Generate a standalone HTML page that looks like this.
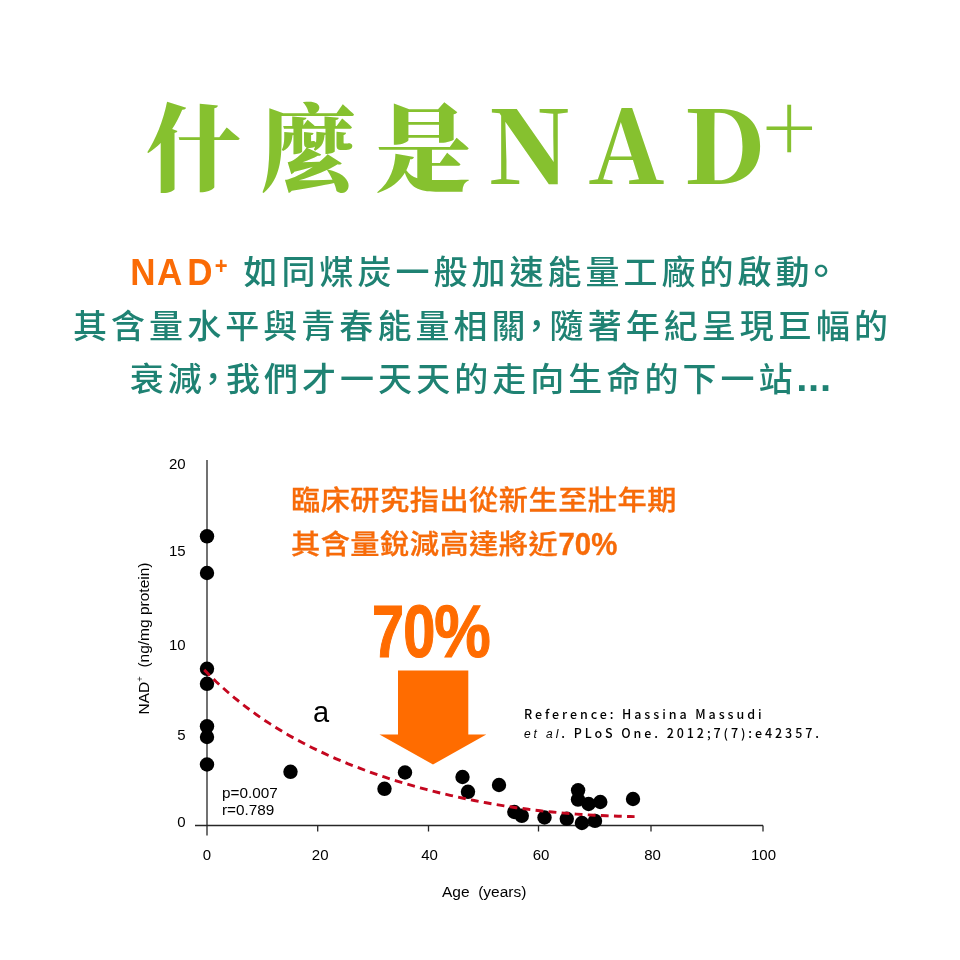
<!DOCTYPE html>
<html lang="zh-Hant">
<head>
<meta charset="utf-8">
<title>什麼是NAD+</title>
<style>
html,body{margin:0;padding:0;background:#fff;}
body{width:960px;height:960px;position:relative;overflow:hidden;font-family:"Liberation Sans","Noto Sans CJK TC","Noto Sans CJK SC",sans-serif;}
.abs{position:absolute;white-space:nowrap;line-height:1;}
#title{left:146px;top:90px;color:#86c12f;font-family:"Noto Serif CJK TC","Noto Serif CJK SC",serif;font-weight:900;font-size:95px;letter-spacing:20px;}
#title .lat{font-size:101px;letter-spacing:17px;}
#title .shi{letter-spacing:16.6px;}
#title .lat .a{letter-spacing:19px;}
#title .lat .d{letter-spacing:0;}
#title .plus{font-weight:200;font-size:92px;letter-spacing:0;position:relative;top:-23px;margin-left:-1.5px;}
.sub{color:#1f8273;transform:scaleY(0.965);transform-origin:50% 50%;font-family:"Noto Sans CJK TC","Noto Sans CJK SC",sans-serif;font-weight:500;font-size:34px;letter-spacing:4.3px;}
.sub .nad{color:#fa6b06;font-family:"Liberation Sans",sans-serif;font-weight:bold;font-size:35px;letter-spacing:1.6px;}
.sub .nad{margin-right:2.5px;display:inline-block;transform:scaleY(1.09);transform-origin:50% 84%;position:relative;top:1px;}
.sub .nad sup{font-size:22px;vertical-align:baseline;position:relative;top:-10px;}
.sub .pn{letter-spacing:0;margin:0 -4px 0 -10px;}
#l1{left:130.2px;top:253.4px;letter-spacing:4.0px;}
.sub .pn2{letter-spacing:0;font-size:40px;line-height:0;margin:0 -10px 0 -12.5px;position:relative;top:0.8px;}
#l2{left:73px;top:307px;letter-spacing:4.05px;}
#l3{left:129.8px;top:360.4px;letter-spacing:4.05px;}
.sub .dots{font-family:"Liberation Sans",sans-serif;font-weight:bold;font-size:40px;letter-spacing:0.8px;margin-left:-0.5px;line-height:0;}
.sub .nad .a{letter-spacing:4.8px;}
.sub .nad .d{letter-spacing:2.4px;}
.org{color:#f96b07;font-family:"Noto Sans CJK TC","Noto Sans CJK SC",sans-serif;font-weight:500;font-size:29.2px;letter-spacing:0.5px;-webkit-text-stroke:0.3px #ec6910;}
.org b{font-family:"Liberation Sans",sans-serif;font-weight:bold;letter-spacing:0;font-size:29.4px;display:inline-block;transform:scaleY(1.12);transform-origin:50% 76%;-webkit-text-stroke:0.35px #ec6910;margin-left:0.3px;}
#o1{left:291px;top:484.2px;}
.org{transform:scaleY(0.93);transform-origin:50% 55%;}
#o2{left:291px;top:528px;}
#big{left:372.2px;top:594px;color:#ff6c00;font-family:"Liberation Sans",sans-serif;font-weight:bold;font-size:76px;transform-origin:0 0;transform:scale(0.76,0.985);-webkit-text-stroke:1.2px #ff6c00;letter-spacing:1px;}
#big .p{display:inline-block;transform:scaleX(1.1);transform-origin:0 50%;margin-left:-2.6px;}
#big .z{margin-left:-2px;}
.ref{color:#000;font-family:"Noto Sans CJK TC","Noto Sans CJK SC",sans-serif;font-weight:500;font-size:12.5px;letter-spacing:2.92px;}
.ref i{font-family:"Liberation Sans",sans-serif;font-weight:normal;font-size:12px;}
#r1{left:524px;top:708px;}
#r2{left:524px;top:726.5px;}
svg{position:absolute;left:0;top:0;}
svg text{font-family:"Liberation Sans",sans-serif;fill:#000;}
</style>
</head>
<body>
<div id="title" class="abs">什麼<span class="shi">是</span><span class="lat">N<span class="a">A</span><span class="d">D</span></span><span class="plus">+</span></div>
<div id="l1" class="abs sub"><span class="nad">N<span class="a">A</span><span class="d">D</span><sup>+</sup></span> 如同煤炭一般加速能量工廠的啟動<span class="pn2">。</span></div>
<div id="l2" class="abs sub">其含量水平與青春能量相關<span class="pn">，</span>隨著年紀呈現巨幅的</div>
<div id="l3" class="abs sub">衰減<span class="pn">，</span>我們才一天天的走向生命的下一站<span class="dots">...</span></div>

<svg width="960" height="960" viewBox="0 0 960 960">
  <!-- axes -->
  <g stroke="#262626" stroke-width="1.3" fill="none">
    <line x1="207" y1="460" x2="207" y2="835.5"/>
    <line x1="195" y1="825.5" x2="763" y2="825.5"/>
    <line x1="317.7" y1="825.5" x2="317.7" y2="831.5"/>
    <line x1="428.5" y1="825.5" x2="428.5" y2="831.5"/>
    <line x1="538.5" y1="825.5" x2="538.5" y2="831.5"/>
    <line x1="651" y1="825.5" x2="651" y2="831.5"/>
    <line x1="763" y1="825.5" x2="763" y2="831.5"/>
  </g>
  <!-- arrow -->
  <polygon points="398,670.5 468.3,670.5 468.3,734.5 486.3,734.5 433,764.5 379.5,734.5 398,734.5" fill="#ff6c00"/>
  <!-- points -->
  <g fill="#000">
    <circle cx="207" cy="536.3" r="7.2"/>
    <circle cx="207" cy="573" r="7.2"/>
    <circle cx="207" cy="668.8" r="7.2"/>
    <circle cx="207" cy="683.8" r="7.2"/>
    <circle cx="207" cy="726.3" r="7.2"/>
    <circle cx="207" cy="737" r="7.2"/>
    <circle cx="207" cy="764.5" r="7.2"/>
    <circle cx="290.5" cy="771.8" r="7.2"/>
    <circle cx="384.5" cy="788.8" r="7.2"/>
    <circle cx="405" cy="772.5" r="7.2"/>
    <circle cx="462.5" cy="777" r="7.2"/>
    <circle cx="468" cy="791.8" r="7.2"/>
    <circle cx="499" cy="785" r="7.2"/>
    <circle cx="514.3" cy="812" r="7.2"/>
    <circle cx="521.8" cy="815.8" r="7.2"/>
    <circle cx="544.5" cy="817.5" r="7.2"/>
    <circle cx="566.8" cy="818.8" r="7.2"/>
    <circle cx="578.1" cy="790.3" r="7.2"/>
    <circle cx="578" cy="799.6" r="7.2"/>
    <circle cx="588.6" cy="804" r="7.2"/>
    <circle cx="600.3" cy="802" r="7.2"/>
    <circle cx="633" cy="799" r="7.2"/>
    <circle cx="581.9" cy="823" r="7.2"/>
    <circle cx="595" cy="820.9" r="7.2"/>
  </g>
  <!-- curve -->
  <path d="M204.2,669.9 L210.2,675.9 L216.2,681.7 L222.2,687.2 L228.2,692.5 L234.2,697.6 L240.2,702.4 L246.2,707.1 L252.2,711.6 L258.2,715.9 L264.2,720.0 L270.2,723.9 L276.2,727.7 L282.2,731.4 L288.2,734.9 L294.2,738.3 L300.2,741.5 L306.2,744.7 L312.2,747.7 L318.2,750.6 L324.2,753.4 L330.2,756.2 L336.2,758.8 L342.2,761.3 L348.2,763.8 L354.2,766.1 L360.2,768.4 L366.2,770.7 L372.2,772.8 L378.2,774.9 L384.2,776.9 L390.2,778.9 L396.2,780.8 L402.2,782.6 L408.2,784.4 L414.2,786.1 L420.2,787.8 L426.2,789.4 L432.2,791.0 L438.2,792.5 L444.2,793.9 L450.2,795.3 L456.2,796.7 L462.2,798.0 L468.2,799.3 L474.2,800.5 L480.2,801.7 L486.2,802.8 L492.2,803.9 L498.2,804.9 L504.2,805.9 L510.2,806.8 L516.2,807.7 L522.2,808.5 L528.2,809.3 L534.2,810.1 L540.2,810.8 L546.2,811.4 L552.2,812.0 L558.2,812.6 L564.2,813.1 L570.2,813.6 L576.2,814.1 L582.2,814.5 L588.2,814.9 L594.2,815.2 L600.2,815.5 L606.2,815.8 L612.2,816.0 L618.2,816.2 L624.2,816.4 L630.2,816.5 L634.6,816.6" fill="none" stroke="#c4071f" stroke-width="2.9" stroke-dasharray="7.8 5.3" stroke-linejoin="round"/>
  <!-- y labels -->
  <g font-size="15" text-anchor="end">
    <text x="185.6" y="469.3">20</text>
    <text x="185.6" y="556">15</text>
    <text x="185.6" y="650">10</text>
    <text x="185.6" y="740">5</text>
    <text x="185.6" y="827.4">0</text>
  </g>
  <g font-size="15" text-anchor="middle">
    <text x="207" y="860">0</text>
    <text x="320.2" y="860">20</text>
    <text x="429.5" y="860">40</text>
    <text x="541" y="860">60</text>
    <text x="652.5" y="860">80</text>
    <text x="763.5" y="860">100</text>
  </g>
  <text x="442" y="896.7" font-size="15.5" xml:space="preserve">Age  (years)</text>
  <text font-size="15.5" transform="translate(149,714.5) rotate(-90)" xml:space="preserve">NAD<tspan font-size="9.5" dy="-6">+</tspan><tspan dy="6">  (ng/mg protein)</tspan></text>
  <text x="222" y="797.5" font-size="15.3">p=0.007</text>
  <text x="222" y="815" font-size="15.3">r=0.789</text>
  <text x="313" y="721.5" font-size="29">a</text>
</svg>

<div id="o1" class="abs org">臨床研究指出從新生至壯年期</div>
<div id="o2" class="abs org">其含量銳減高達將近<b>70%</b></div>
<div id="big" class="abs">7<span class="z">0</span><span class="p">%</span></div>
<div id="r1" class="abs ref">Reference: Hassina Massudi</div>
<div id="r2" class="abs ref"><i>et al</i>. PLoS One. 2012;7(7):e42357.</div>
</body>
</html>
